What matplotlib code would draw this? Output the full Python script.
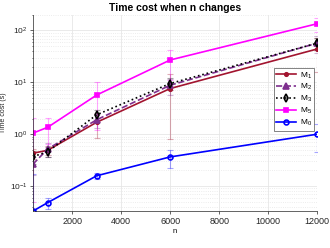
import numpy as np
import matplotlib
matplotlib.use("Agg")
import matplotlib.pyplot as plt

plt.rcParams["font.family"] = ["Liberation Sans", "DejaVu Sans"]
plt.rcParams["mathtext.fontset"] = "custom"
plt.rcParams["mathtext.rm"] = "Liberation Sans"
plt.rcParams["mathtext.it"] = "Liberation Sans"

n = [400, 1000, 3000, 6000, 12000]

m1 = [0.43, 0.49, 1.7, 7.6, 44]
m2 = [0.265, 0.52, 1.9, 8.8, 57]
m3 = [0.37, 0.46, 2.37, 9.5, 57]
m5 = [1.05, 1.36, 5.7, 27, 135]
m0 = [0.033, 0.048, 0.158, 0.365, 1.0]

m1_err = [0.1, 0.1, 0.85, 6.8, 28]
m2_err = [0.1, 0.15, 0.6, 3.0, 20]
m3_err = [0.1, 0.1, 0.5, 2.5, 15]
m5_err = [1.0, 0.7, 4.5, 16, 42]
m0_err = [0.14, 0.012, 0.02, 0.14, 0.55]

labels = ["M$_1$", "M$_2$", "M$_3$", "M$_5$", "M$_0$"]

series = [
    (m1, m1_err, "#A2142F", "-", ".", 5),
    (m2, m2_err, "#7E2F8E", "--", "^", 4),
    (m3, m3_err, "black", ":", "d", 4),
    (m5, m5_err, "#FF00FF", "-", "s", 3),
    (m0, m0_err, "#0000FF", "-", "o", 3.5),
]

fig = plt.figure(figsize=(3.3, 2.48), dpi=100)
ax = fig.add_axes([0.1, 0.149, 0.861, 0.791])

for (vals, err, col, ls, mk, ms), lab in zip(series, labels):
    ax.errorbar(n, vals, yerr=err, fmt="none", ecolor=col, alpha=0.35,
                elinewidth=0.8, capsize=2, capthick=0.8)
for (vals, err, col, ls, mk, ms), lab in zip(series, labels):
    ax.plot(n, vals, color=col, ls=ls, lw=1.2, marker=mk, ms=ms,
            markerfacecolor="none" if mk in ("d", "o") else col,
            markeredgewidth=1.2, label=lab)

ax.set_yscale("log")
ax.set_xlim(400, 12000)
ax.set_ylim(0.033, 200)
ax.set_xticks([2000, 4000, 6000, 8000, 10000, 12000])
ax.grid(True, which="major", color="#e6e6e6", lw=0.6)
ax.grid(True, which="minor", axis="y", color="#e6e6e6", lw=0.6, ls=":")
ax.set_axisbelow(True)
ax.tick_params(labelsize=6.5, length=2, width=0.5, colors="#262626", which="both", pad=2)
ax.tick_params(axis="y", labelsize=6)
ax.tick_params(which="minor", length=1)
for s in ["top", "right"]:
    ax.spines[s].set_visible(False)
for s in ["left", "bottom"]:
    ax.spines[s].set_color("#262626")
    ax.spines[s].set_linewidth(0.5)

ax.set_title("Time cost when n changes", fontsize=7.5, fontweight="bold", pad=3)
ax.set_xlabel("n", fontsize=5.5, labelpad=2)
ax.set_ylabel("Time cost (s)", fontsize=5, color="#262626")
ax.yaxis.set_label_coords(-0.093, 0.5)

leg = ax.legend(loc="center right", bbox_to_anchor=(0.99, 0.57), fontsize=6,
                frameon=True, fancybox=False, edgecolor="#262626",
                handlelength=2.4, handletextpad=0.4, borderpad=0.3,
                labelspacing=0.2, borderaxespad=0)
leg.get_frame().set_linewidth(0.5)

fig.savefig("out.png", dpi=100)
